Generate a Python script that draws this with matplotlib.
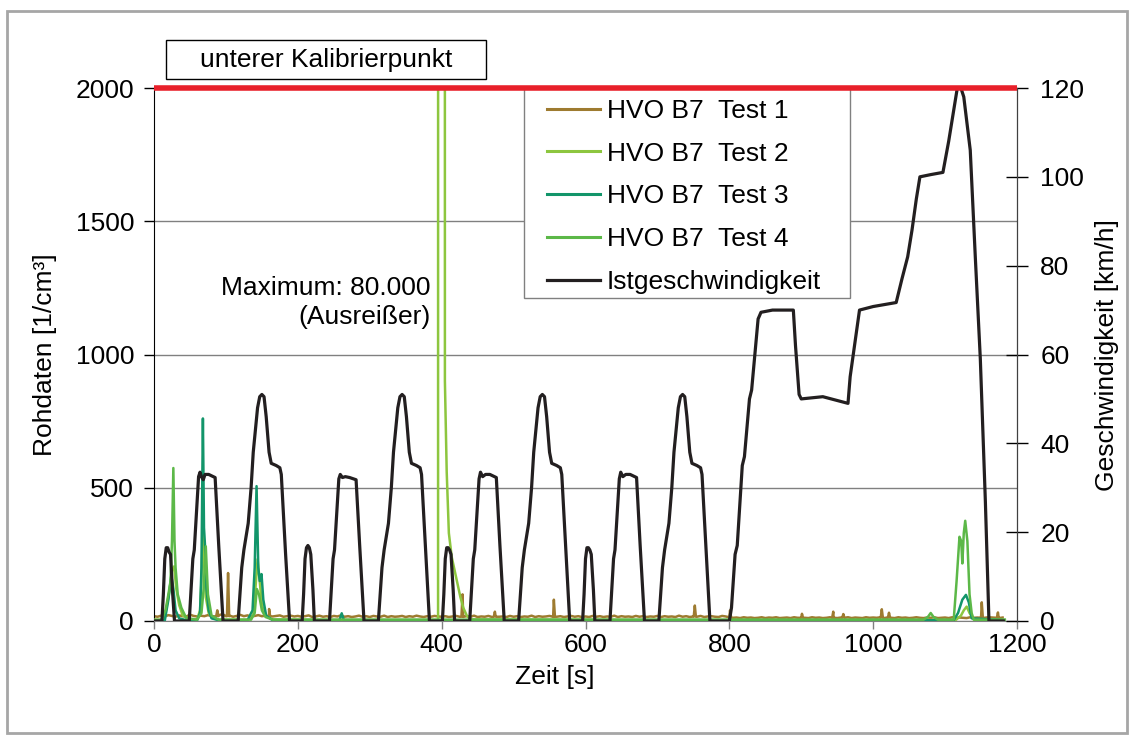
import numpy as np
import matplotlib
matplotlib.use("Agg")
import matplotlib.pyplot as plt
import matplotlib.transforms as mtransforms
from matplotlib.patches import Rectangle
from matplotlib.lines import Line2D

plt.rcParams['font.family'] = ['Liberation Sans', 'DejaVu Sans']
plt.rcParams['font.size'] = 19

# ---------------------------------------------------------------- data
series_labels = ["HVO B7  Test 1", "HVO B7  Test 2", "HVO B7  Test 3", "HVO B7  Test 4"]
speed_label = "Istgeschwindigkeit"
calib_label = "unterer Kalibrierpunkt"
calib_level = 2000
outlier_note = "Maximum: 80.000\n(Ausreißer)"

# Test 1: background level sampled every 5 s (0 ... 1180 s)
test1_base_step = 5
test1_base = [
    18, 16, 20, 17, 22, 19, 16, 21, 18, 17, 24, 19, 17, 20, 18, 22, 19, 17, 21, 26,
    18, 20, 16, 19, 23, 18, 21, 17, 19, 22, 18, 20, 24, 17, 19, 21, 16, 18, 20, 17,
    19, 16, 18, 21, 15, 17, 20, 16, 18, 15, 19, 17, 21, 16, 18, 15, 17, 20, 16, 18,
    15, 19, 17, 16, 20, 15, 18, 16, 17, 19, 15, 18, 16, 20, 17, 15, 18, 16, 19, 17,
    16, 18, 15, 17, 19, 16, 15, 18, 16, 20, 15, 17, 16, 19, 15, 18, 16, 17, 15, 19,
    16, 18, 15, 17, 16, 20, 15, 18, 16, 17, 19, 15, 16, 18, 15, 17, 19, 16, 18, 15,
    17, 15, 19, 16, 18, 15, 17, 16, 20, 15, 18, 16, 17, 15, 19, 16, 18, 15, 17, 16,
    19, 15, 18, 16, 17, 15, 20, 16, 18, 15, 17, 16, 19, 15, 17, 18, 16, 15, 19, 17,
    14, 12, 13, 11, 14, 12, 13, 11, 12, 14, 11, 13, 12, 14, 11, 12, 13, 11, 14, 12,
    13, 12, 11, 14, 12, 13, 11, 12, 14, 12, 11, 13, 12, 14, 11, 13, 12, 11, 14, 12,
    13, 12, 14, 11, 13, 12, 11, 14, 12, 13, 11, 12, 14, 12, 11, 13, 12, 14, 11, 12,
    13, 11, 14, 12, 13, 12, 11, 14, 12, 13, 11, 12, 14, 13, 12, 11, 13,
]
# Test 1: short peaks on top of the background
test1_peak_t = [86.5, 88, 89.5, 101.5, 103, 104.5, 158.5, 160, 161.5, 427.5, 429, 430.5,
                472.5, 474, 475.5, 554.5, 556, 557.5, 750.5, 752, 753.5, 799.5, 801, 802.5,
                899.5, 901, 902.5, 943, 944.5, 946, 957, 958.5, 960, 1010.5, 1012, 1013.5,
                1020.5, 1022, 1023.5, 1149.5, 1151, 1152.5, 1172, 1173.5, 1174.5]
test1_peak_v = [18, 40, 18, 18, 180, 18, 18, 45, 18, 16, 100, 16,
                16, 35, 16, 16, 80, 16, 16, 58, 16, 14, 40, 13,
                12, 27, 12, 12, 35, 12, 12, 26, 12, 12, 44, 12,
                12, 31, 12, 12, 70, 12, 12, 32, 12]

test2_t = [0, 14, 18, 22, 25, 28, 31, 35, 40, 50, 60, 64, 66, 68, 70, 72, 76, 82, 90,
           130, 138, 141, 144, 147, 150, 155, 165, 250, 395, 397, 402, 404.5, 407, 410,
           414, 418, 422, 426, 430, 435, 440, 700, 1115, 1122, 1126, 1130, 1134, 1140, 1183]
test2_v = [5, 5, 60, 120, 190, 205, 120, 60, 20, 8, 6, 40, 150, 370, 200, 90, 30, 10, 5,
           5, 20, 120, 232, 150, 60, 20, 6, 4, 4, 80000, 80000, 900, 560, 330,
           240, 190, 140, 90, 50, 20, 6, 4, 4, 20, 40, 54, 30, 5, 4]

test3_t = [0, 15, 20, 24, 27, 30, 35, 45, 60, 64, 66, 68, 69.5, 71, 73, 76, 80, 90,
           130, 137, 140, 142.6, 145, 147, 149.5, 152, 156, 165, 250, 258, 261, 264,
           700, 1112, 1118, 1124, 1129, 1133, 1137, 1183]
test3_v = [2, 2, 80, 170, 120, 40, 10, 3, 3, 30, 200, 760, 350, 280, 120, 40, 10, 3,
           3, 40, 200, 506, 200, 150, 176, 80, 20, 3, 3, 3, 29, 3,
           3, 3, 30, 80, 98, 70, 10, 3]

test4_t = [0, 10, 16, 20, 23, 25, 26.9, 28.5, 30, 33, 38, 45, 60, 66, 69, 72, 75, 80, 90,
           135, 140, 143, 146, 150, 155, 165, 1070, 1076, 1080, 1084, 1090, 1112, 1116,
           1120, 1122.4, 1124, 1126, 1128, 1131, 1134, 1137, 1140, 1183]
test4_v = [4, 4, 40, 100, 150, 300, 574, 300, 200, 100, 50, 10, 5, 30, 120, 280, 100, 20, 5,
           5, 30, 120, 100, 40, 15, 5, 5, 15, 30, 15, 5, 5, 150,
           316, 300, 216, 330, 376, 300, 100, 29, 5, 5]

# vehicle speed, km/h
speed_t = [0, 11, 13, 15, 17, 19, 21, 23, 26, 28.5,
           49, 54, 56, 62, 64, 66, 68.5, 71, 76, 85, 90, 96,
           117, 122, 125, 131, 135, 138, 144, 147, 150, 153, 156, 160, 163, 170, 175, 177, 183, 188.5,
           206, 208, 210, 212, 214, 216, 218, 221, 223,
           244, 249, 251, 257, 259, 262, 266, 272, 281, 286, 292,
           312, 317, 320, 326, 330, 333, 339, 342, 345, 348, 351, 355, 358, 365, 370, 372, 378, 383,
           401, 403, 405, 407, 409, 411, 413, 416, 418,
           439, 444, 446, 452, 454, 457, 461, 467, 476, 481, 487,
           507, 512, 515, 521, 525, 528, 534, 537, 540, 543, 546, 550, 553, 560, 565, 567, 573, 578,
           596, 598, 600, 602, 604, 606, 608, 611, 613,
           634, 639, 641, 647, 649, 652, 656, 662, 671, 676, 682,
           702, 707, 710, 716, 720, 723, 729, 732, 735, 738, 741, 745, 748, 755, 760, 762, 768, 773,
           800, 803, 808, 811, 818, 821, 828, 831, 840, 844, 860, 880, 889, 892, 897, 900,
           930, 965, 968, 975, 981, 1000, 1032, 1040, 1048, 1054, 1060, 1065, 1080, 1097,
           1105, 1112, 1117, 1122, 1126, 1135, 1142, 1149, 1156, 1161, 1181]
speed_v = [0, 0, 6, 14, 16.5, 16.5, 15.5, 15, 6, 0,
           0, 14, 16, 32.5, 33.5, 32.5, 31.8, 33, 33, 32.3, 17, 0,
           0, 12, 16, 22, 30, 38, 48, 50.5, 51, 50.5, 46, 38, 35.5, 35, 34.5, 33, 15, 0,
           0, 6, 14, 16.5, 17, 16.5, 15, 7, 0,
           0, 14, 16, 32, 33, 32.3, 32.5, 32.3, 31.8, 17, 0,
           0, 12, 16, 22, 30, 38, 48, 50.5, 51, 50.5, 46, 38, 35.5, 35, 34.5, 33, 15, 0,
           0, 6, 14, 16.5, 16.5, 16, 15, 7, 0,
           0, 14, 16, 32, 33.5, 32.5, 33, 33, 32.3, 17, 0,
           0, 12, 16, 22, 30, 38, 48, 50.5, 51, 50.5, 46, 38, 35.5, 35, 34.5, 33, 15, 0,
           0, 6, 14, 16.5, 16.5, 16, 15, 7, 0,
           0, 14, 16, 32, 33.5, 32.5, 33, 33, 32.3, 17, 0,
           0, 12, 16, 22, 30, 38, 48, 50.5, 51, 50.5, 46, 38, 35.5, 35, 34.5, 33, 15, 0,
           0, 3, 15, 17, 35, 37, 50, 52, 68, 69.5, 70, 70, 70, 62, 51, 50,
           50.5, 49, 55, 63, 70, 70.8, 71.7, 77, 82, 88, 95, 100, 100.5, 101,
           108, 115, 120, 120, 118, 106, 82, 59, 27, 0, 0]

x_ticks = [0, 200, 400, 600, 800, 1000, 1200]
y_ticks = [0, 500, 1000, 1500, 2000]
speed_ticks = [0, 20, 40, 60, 80, 100, 120]

colors = ["#9E7B30", "#8DC63F", "#12956A", "#5CB848"]
speed_color = "#231F20"
calib_color = "#E8202A"
grid_color = "#808080"

# ---------------------------------------------------------------- figure
W, H = 1134, 738
fig = plt.figure(figsize=(W / 100, H / 100), dpi=100)


def fx(px):
    return px / W


def fy(py):
    return 1 - py / H


# light grey outer frame
fig.patches.append(Rectangle((fx(7), fy(733)), fx(1127) - fx(7), fy(11) - fy(733),
                             transform=fig.transFigure, fill=False,
                             edgecolor="#A6A6A6", linewidth=2))

ax = fig.add_axes([fx(154), fy(621), fx(1017) - fx(154), fy(88) - fy(621)])

# Test 1: merge background samples with its peaks
base_t = np.arange(len(test1_base)) * test1_base_step
t1 = np.concatenate([base_t, test1_peak_t])
v1 = np.concatenate([test1_base, test1_peak_v])
order = np.argsort(t1, kind="stable")
t1, v1 = t1[order], v1[order]

ax.plot(t1, v1, color=colors[0], lw=1.8, zorder=2)
ax.plot(test2_t, test2_v, color=colors[1], lw=1.8, zorder=3)
ax.plot(test3_t, test3_v, color=colors[2], lw=1.8, zorder=4)
ax.plot(test4_t, test4_v, color=colors[3], lw=1.8, zorder=5)

ax.set_xlim(0, 1200)
ax.set_ylim(0, 2000)
ax.set_xticks(x_ticks)
ax.set_yticks(y_ticks)
ax.yaxis.grid(True, color=grid_color, linewidth=1)
ax.set_axisbelow(True)
ax.tick_params(axis="y", direction="out", length=7, width=1, pad=7.4, labelsize=19)
ax.tick_params(axis="x", direction="out", length=6, width=1, pad=3, labelsize=19,
               color=grid_color)
ax.spines["top"].set_visible(False)
ax.spines["bottom"].set_color(grid_color)
ax.spines["left"].set_color("black")

ax.text(384.7, 1195, outlier_note, ha="right", va="center", multialignment="right",
        linespacing=1.3, fontsize=19)

ax2 = ax.twinx()
ax2.plot(speed_t, speed_v, color=speed_color, lw=2.3, zorder=3)
ax2.set_ylim(0, 120)
ax2.set_yticks(speed_ticks)
ax2.tick_params(axis="y", direction="inout", length=16, width=1, pad=8.7, labelsize=19)
ax2.spines["top"].set_visible(False)
ax2.spines["right"].set_color("#404040")
ax2.spines["bottom"].set_visible(False)
ax2.spines["left"].set_visible(False)

# calibration level line across the full width, left-axis units
trans = mtransforms.blended_transform_factory(ax2.transAxes, ax.transData)
ax2.plot([0, 1], [calib_level, calib_level], transform=trans, color=calib_color,
         lw=4, clip_on=False, zorder=10, solid_capstyle="butt")

# legend with a square white frame
lx0, lx1 = (524 - 154) / 863, (850 - 154) / 863
ly0, ly1 = (621 - 298) / 533, 1.0
ax2.add_patch(Rectangle((lx0, ly0), lx1 - lx0, ly1 - ly0, transform=ax2.transAxes,
                        facecolor="white", edgecolor=grid_color, lw=1, zorder=6))
handles = [Line2D([], [], color=c, lw=2.2) for c in colors]
handles.append(Line2D([], [], color=speed_color, lw=2.3))
leg = ax2.legend(handles, series_labels + [speed_label], loc="upper left",
                 bbox_to_anchor=((547 - 154) / 863, (621 - 99) / 533),
                 frameon=False, borderpad=0, borderaxespad=0, handlelength=2.0,
                 handletextpad=0.27, labelspacing=0.71, fontsize=19)
leg.set_zorder(7)

# calibration caption box above the plot
fig.patches.append(Rectangle((fx(166), fy(79)), fx(486) - fx(166), fy(40) - fy(79),
                             transform=fig.transFigure, facecolor="white",
                             edgecolor="black", linewidth=1))
fig.text(fx(326), fy(60), calib_label, ha="center", va="center", fontsize=19)

fig.text(fx(555), fy(677), "Zeit [s]", ha="center", va="center", fontsize=19)
fig.text(fx(45), fy(355), "Rohdaten [1/cm³]", ha="center", va="center",
         rotation=90, fontsize=19)
fig.text(fx(1107), fy(355), "Geschwindigkeit [km/h]", ha="center", va="center",
         rotation=90, fontsize=19)

fig.savefig("out.png", dpi=100)
